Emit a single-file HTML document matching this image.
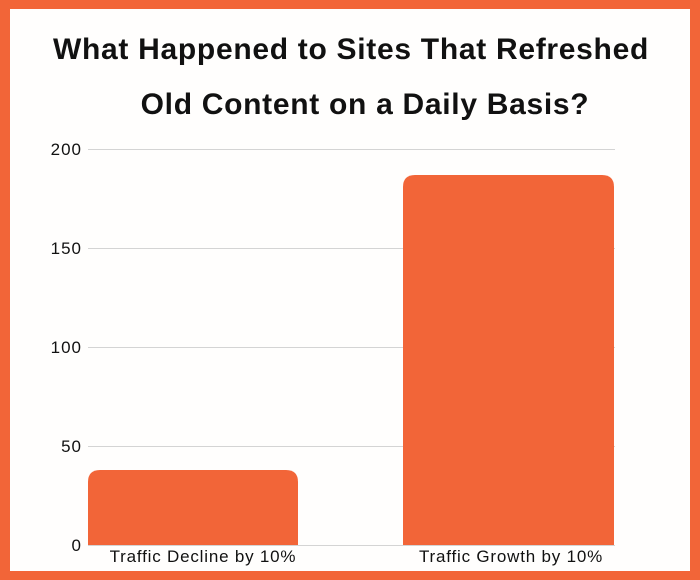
<!DOCTYPE html>
<html><head><style>
html,body{margin:0;padding:0;}
body{width:700px;height:580px;overflow:hidden;background:#F26538;font-family:"Liberation Sans",sans-serif;}
.frame{position:absolute;left:10px;top:9px;width:680px;height:562px;background:#FFFEFD;}
</style></head><body>
<div class="frame"></div>
<svg width="700" height="580" style="position:absolute;left:0;top:0">
<g font-family="Liberation Sans, sans-serif" font-weight="bold" font-size="30" text-anchor="middle" fill="#111" letter-spacing="0.7">
<text x="351" y="59">What Happened to Sites That Refreshed</text>
<text x="365" y="114">Old Content on a Daily Basis?</text>
</g>
<g stroke="#d4d4d4" stroke-width="1">
<line x1="88" x2="615" y1="149.5" y2="149.5"/>
<line x1="88" x2="615" y1="248.5" y2="248.5"/>
<line x1="88" x2="615" y1="347.5" y2="347.5"/>
<line x1="88" x2="615" y1="446.5" y2="446.5"/>
<line x1="88" x2="615" y1="545.5" y2="545.5"/>
</g>
<g font-size="17" text-anchor="end" fill="#111" letter-spacing="1">
<text x="82" y="155">200</text>
<text x="82" y="254">150</text>
<text x="82" y="353">100</text>
<text x="82" y="452">50</text>
<text x="82" y="551">0</text>
</g>
<path d="M88 545 V482 Q88 470 100 470 H286 Q298 470 298 482 V545 Z" fill="#F26538"/>
<path d="M403 545 V187 Q403 175 415 175 H602 Q614 175 614 187 V545 Z" fill="#F26538"/>
<g font-size="17" text-anchor="middle" fill="#111" letter-spacing="0.8">
<text x="203" y="562">Traffic Decline by 10%</text>
<text x="511" y="562">Traffic Growth by 10%</text>
</g>
</svg>
</body></html>
